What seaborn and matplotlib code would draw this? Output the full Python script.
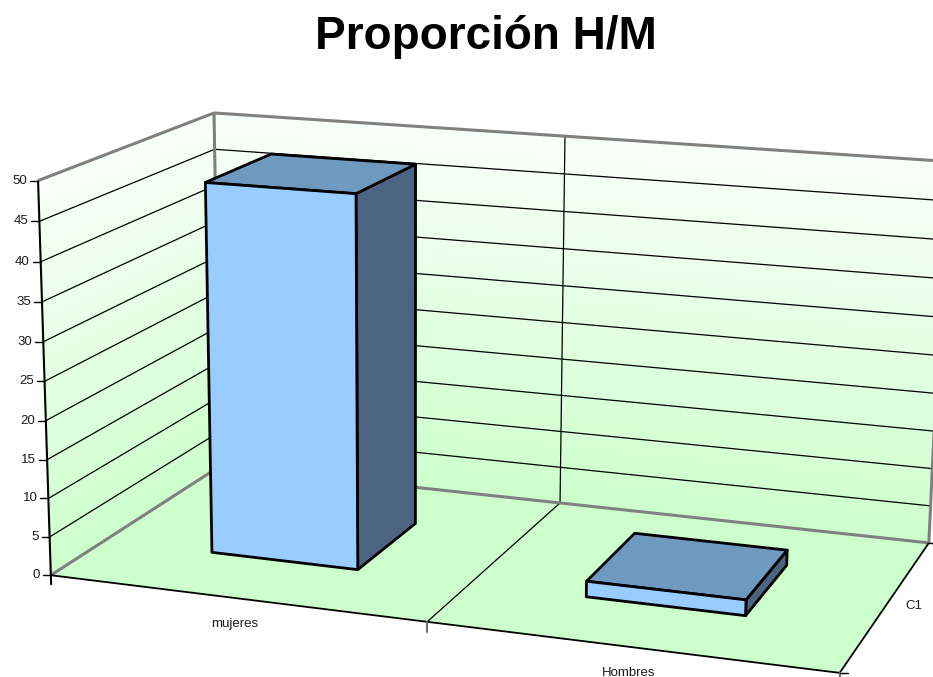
import numpy as np
import matplotlib
matplotlib.use("Agg")
import matplotlib.pyplot as plt
from matplotlib.patches import Polygon
import seaborn as sns

title = "Proporción H/M"
categories = ["mujeres", "Hombres"]
values = [48, 2]
series_name = "C1"
y_ticks = [0, 5, 10, 15, 20, 25, 30, 35, 40, 45, 50]

sns.set_style("white")
plt.rcParams["font.family"] = ["Liberation Sans", "DejaVu Sans"]

W, H = 933, 677
fig = plt.figure(figsize=(W / 100, H / 100), dpi=100)
ax = fig.add_axes([0, 0, 1, 1])
ax.set_xlim(0, W)
ax.set_ylim(H, 0)
ax.axis("off")

# ---- perspective camera: chart space (category x, value y, depth z) -> canvas
YMAX = float(y_ticks[-1])
NCAT = len(categories)
cam3 = np.array([
    [0, 0, 0], [0, 50, 0], [0, 50, 1], [1, 50, 1], [1, 0, 1],
    [2, 0, 1], [1, 0, 0], [0, 45, 0], [0, 0, 1], [2, 0, 0],
], dtype=float)
cam2 = np.array([
    [54, 574], [37, 180], [217, 113], [564, 137], [562, 502],
    [929, 541], [427, 622], [38, 221], [216, 468], [839, 675],
], dtype=float)


def fit_camera(p3, p2):
    rows = []
    for (X, Y, Z), (u, v) in zip(p3, p2):
        Y = Y / YMAX
        u, v = u / 1000.0, v / 1000.0
        rows.append([X, Y, Z, 1, 0, 0, 0, 0, -u * X, -u * Y, -u * Z, -u])
        rows.append([0, 0, 0, 0, X, Y, Z, 1, -v * X, -v * Y, -v * Z, -v])
    _, _, vt = np.linalg.svd(np.array(rows))
    return vt[-1].reshape(3, 4)


P = fit_camera(cam3, cam2)


def proj(x, y, z):
    q = P @ np.array([x, y / YMAX, z, 1.0])
    return np.array([q[0] / q[2] * 1000.0, q[1] / q[2] * 1000.0])


def poly(pts, **kw):
    ax.add_patch(Polygon([proj(*p) for p in pts], closed=True, **kw))


def seg(a, b, **kw):
    pa, pb = proj(*a), proj(*b)
    ax.plot([pa[0], pb[0]], [pa[1], pb[1]], solid_capstyle="butt", **kw)


# ---- walls with a gradient running along the value axis
TOP = np.array([250, 255, 250]) / 255.0
BOT = np.array([204, 255, 204]) / 255.0


def wall_gradient(corners, plane_cols):
    pts = np.array([proj(*c) for c in corners])
    x0, y0 = np.floor(pts.min(axis=0)).astype(int)
    x1, y1 = np.ceil(pts.max(axis=0)).astype(int)
    Hi = np.linalg.inv(np.column_stack(plane_cols))
    us, vs = np.meshgrid(np.arange(x0, x1) + 0.5, np.arange(y0, y1) + 0.5)
    q = Hi @ np.vstack([us.ravel() / 1000, vs.ravel() / 1000, np.ones(us.size)])
    yn = (q[1] / q[2]).reshape(us.shape)
    t = np.clip(1 - yn, 0, 1)[..., None]
    img = TOP * (1 - t) + BOT * t
    im = ax.imshow(img, extent=[x0, x1, y1, y0], origin="upper",
                   interpolation="bilinear", zorder=1)
    im.set_clip_path(Polygon(pts, closed=True, transform=ax.transData))


# back wall (z = 1): plane coords (x, y)
wall_gradient([(0, 0, 1), (NCAT, 0, 1), (NCAT, YMAX, 1), (0, YMAX, 1)],
              [P[:, 0], P[:, 1], P[:, 2] + P[:, 3]])
# left wall (x = 0): plane coords (z, y)
wall_gradient([(0, 0, 0), (0, 0, 1), (0, YMAX, 1), (0, YMAX, 0)],
              [P[:, 2], P[:, 1], P[:, 3]])

# floor
poly([(0, 0, 0), (NCAT, 0, 0), (NCAT, 0, 1), (0, 0, 1)],
     fc="#ccffcc", ec="none", zorder=2)

# gridlines on the walls
for yv in y_ticks[1:-1]:
    seg((0, yv, 0), (0, yv, 1), color="black", lw=0.9, zorder=3)
    seg((0, yv, 1), (NCAT, yv, 1), color="black", lw=0.9, zorder=3)
for xc in range(1, NCAT):
    seg((xc, 0, 1), (xc, YMAX, 1), color="black", lw=0.9, zorder=3)
    seg((xc, 0, 0), (xc, 0, 1), color="black", lw=0.9, zorder=3)

# wall edges
wall_edge = dict(color="#808080", lw=2.2, zorder=4)
seg((0, YMAX, 0), (0, YMAX, 1), **wall_edge)
seg((0, YMAX, 1), (NCAT, YMAX, 1), **wall_edge)
seg((0, 0, 1), (0, YMAX, 1), **wall_edge)
seg((NCAT, 0, 1), (NCAT, YMAX, 1), **wall_edge)
seg((0, 0, 0), (0, 0, 1), **wall_edge)
seg((0, 0, 1), (NCAT, 0, 1), **wall_edge)

# floor outline
seg((0, 0, 0), (NCAT, 0, 0), color="black", lw=1.3, zorder=5)
seg((NCAT, 0, 0), (NCAT, 0, 1), color="black", lw=1.3, zorder=5)

# ---- bars
FRONT, TOPC, SIDE = "#99ccff", "#7099c0", "#4d6480"
BW, Z0, Z1 = 0.4, 0.3, 0.7
bar_kw = dict(ec="black", lw=2.0, joinstyle="round", zorder=6)
for i, val in enumerate(values):
    xa, xb = i + 0.5 - BW / 2, i + 0.5 + BW / 2
    poly([(xb, 0, Z0), (xb, 0, Z1), (xb, val, Z1), (xb, val, Z0)], fc=SIDE, **bar_kw)
    poly([(xa, val, Z0), (xb, val, Z0), (xb, val, Z1), (xa, val, Z1)], fc=TOPC, **bar_kw)
    poly([(xa, 0, Z0), (xb, 0, Z0), (xb, val, Z0), (xa, val, Z0)], fc=FRONT, **bar_kw)

# ---- value axis
seg((0, 0, 0), (0, YMAX, 0), color="black", lw=1.5, zorder=7)
base = proj(0, 0, 0)
ax.plot([base[0], base[0] + 0.3], [base[1], base[1] + 9], color="black", lw=1.5, zorder=7)
for yv in y_ticks:
    p = proj(0, yv, 0)
    ax.plot([p[0] - 8, p[0]], [p[1], p[1]], color="black", lw=1.0, zorder=7)
    ax.text(p[0] - 11, p[1], str(yv), ha="right", va="center", fontsize=9.5,
            color="#1a1a1a", zorder=8)

# category axis ticks and labels
for xc in range(1, NCAT + 1):
    p = proj(xc, 0, 0)
    ax.plot([p[0], p[0]], [p[1], p[1] + 10], color="#707070", lw=1.5, zorder=7)
for i, name in enumerate(categories):
    p = proj(i + 0.5, 0, 0)
    ax.text(p[0], p[1] + 26, name, ha="center", va="center", fontsize=9.5,
            color="#1a1a1a", zorder=8)

# depth (series) axis
for zc in (0, 1):
    p = proj(NCAT, 0, zc)
    ax.plot([p[0], p[0] + 8], [p[1], p[1]], color="black", lw=1.0, zorder=7)
p = proj(NCAT, 0, 0.5)
ax.text(p[0] + 27, p[1] + 2, series_name, ha="center", va="center", fontsize=9.5,
        color="#1a1a1a", zorder=8)

# title
ax.text(486, 37, title, ha="center", va="center", fontsize=33,
        fontweight="bold", color="black")

fig.savefig("out.png", dpi=100)
